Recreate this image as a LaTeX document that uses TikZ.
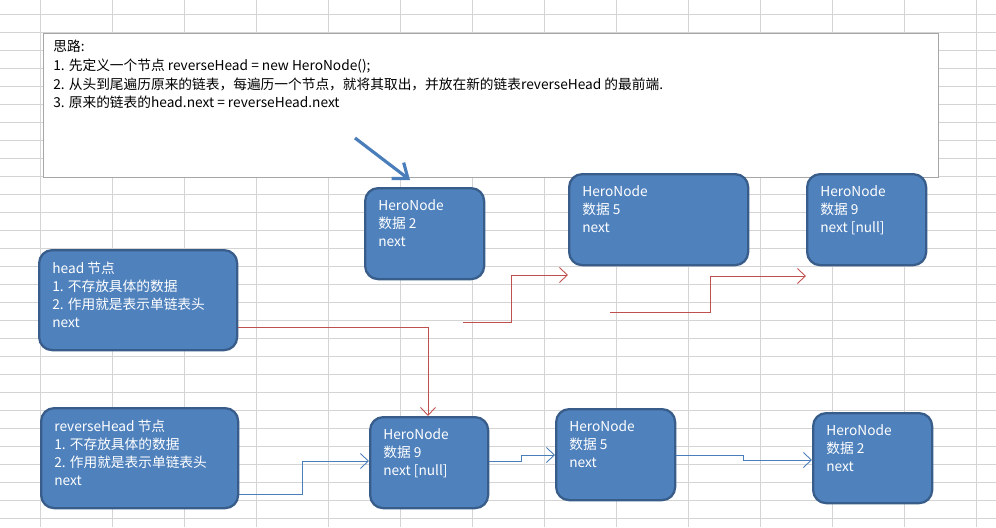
\documentclass[tikz,border=0pt]{standalone}
\usepackage{fontspec}
\setmainfont{Noto Sans CJK SC}
\usetikzlibrary{arrows.meta}
\definecolor{boxfill}{HTML}{4F81BD}
\definecolor{boxline}{HTML}{385D8A}
\definecolor{redline}{HTML}{C0504D}
\definecolor{blueline}{HTML}{4A7EBB}
\definecolor{gridgray}{HTML}{D4D4D4}
\tikzset{
  hero/.style={draw=boxline, fill=boxfill, line width=1.3pt, rounded corners=0.26cm},
  herotext/.style={anchor=north west, text=white, align=left, inner sep=0pt,
    font=\fontsize{7.8}{10.2}\selectfont},
  nextred/.style={draw=redline, line width=0.5pt, -{Straight Barb[length=1.6mm,width=3mm]}},
  nextblue/.style={draw=blueline, line width=0.5pt, -{Straight Barb[length=1.6mm,width=3mm]}}
}
\newcommand\heronode[6]{%
  \node[hero, anchor=north west, minimum width=#4*0.02cm, minimum height=#5*0.02cm] (#1) at (#2,#3) {};
  \node[herotext] (#1t) at ([xshift=0.28cm,yshift=-0.25cm]#1.north west) {#6};
}
\begin{document}
\begin{tikzpicture}[x=0.02cm,y=-0.02cm]
    \useasboundingbox (0,0) rectangle (996,527);
    \fill[white] (0,0) rectangle (996,527);
    % grid
    \foreach \gx in {40,112,...,976}
      \draw[gridgray, line width=0.5pt] (\gx,0) -- (\gx,527);
    \foreach \gy in {14,32,...,527}
      \draw[gridgray, line width=0.5pt] (0,\gy) -- (996,\gy);
    % notes
    \node[draw=gray!70, fill=white, line width=0.6pt, anchor=north west, minimum width=895*0.02cm, minimum height=144*0.02cm] (idea) at (43,33) {};
    \node[anchor=north west, align=left, inner sep=0pt, font=\fontsize{7.8}{10.6}\selectfont] (ideat) at ([xshift=0.2cm,yshift=-0.14cm]idea.north west)
      {思路:\\1. 先定义一个节点 reverseHead = new HeroNode();\\2. 从头到尾遍历原来的链表，每遍历一个节点，就将其取出，并放在新的链表reverseHead 的最前端.\\3. 原来的链表的head.next = reverseHead.next};
    % nodes
    \heronode{two}{364}{187}{119}{91}{HeroNode\\数据 2\\next}
    \heronode{five}{568}{173}{179}{91}{HeroNode\\数据 5\\next}
    \heronode{nine}{806}{173}{119}{91}{HeroNode\\数据 9\\next [null]}
    \heronode{head}{38}{249}{198}{100}{head 节点\\1. 不存放具体的数据\\2. 作用就是表示单链表头\\next}
    \heronode{rhead}{40}{407}{197}{100}{reverseHead 节点\\1. 不存放具体的数据\\2. 作用就是表示单链表头\\next}
    \heronode{rnine}{369}{416}{118}{91}{HeroNode\\数据 9\\next [null]}
    \heronode{rfive}{555}{408}{119}{91}{HeroNode\\数据 5\\next}
    \heronode{rtwo}{812}{412}{119}{90}{HeroNode\\数据 2\\next}
    % arrows
    \coordinate (tip) at (410,180);
    \draw[blueline, line width=1.8pt, -{Straight Barb[length=2.6mm,width=4mm]}] (355,138) -- (tip);
    \draw[nextred] (head.east |- 0,327) -| (rnine.north -| 428,0);
    \coordinate (twonext) at (463,322);
    \coordinate (fivenext) at (610,312);
    \draw[nextred] (twonext) -- (511,322) -- (511,275) -- (five.south west |- 0,275);
    \draw[nextred] (fivenext) -- (710,312) -- (710,276) -- (nine.south west |- 0,276);
    \draw[nextblue] (rhead.east |- 0,494) -- (302,494) -- (302,461) -- (rnine.west |- 0,461);
    \draw[nextblue] (rnine.east |- 0,461) -- (521,461) -- (521,455) -- (rfive.west |- 0,455);
    \draw[nextblue] (rfive.east |- 0,455) -- (743,455) -- (743,460) -- (rtwo.west |- 0,460);
\end{tikzpicture}
\end{document}
